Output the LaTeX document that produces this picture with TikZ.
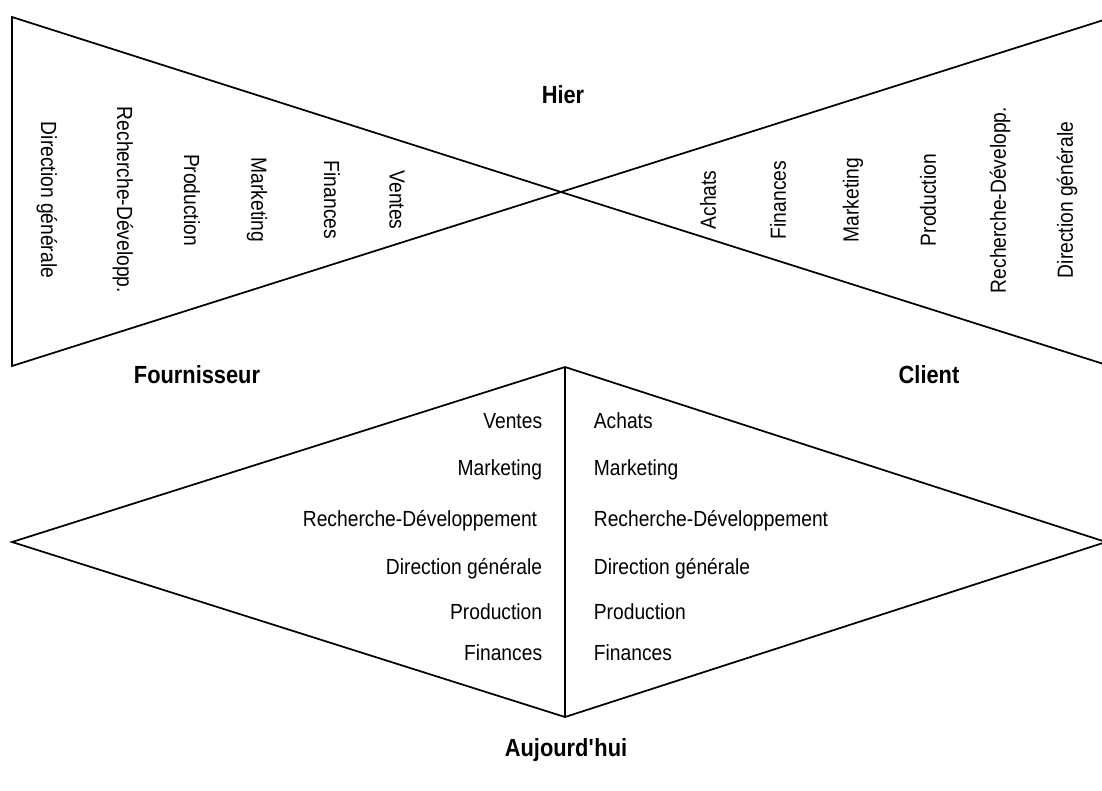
\documentclass[tikz,border=0pt]{standalone}
\usepackage{fontspec}
\setmainfont[FakeStretch=0.88]{Liberation Sans}
\usepackage{tikz}

\begin{document}
\begin{tikzpicture}[x=0.75pt, y=-0.75pt, line width=1.3pt,
  main/.style = {inner sep=0pt, font=\fontsize{16.4}{19}\selectfont},
  head/.style = {main, font=\fontsize{18.6}{21}\selectfont\bfseries},
  lft/.style = {main, rotate=-90},
  rgt/.style = {main, rotate=90}]
\useasboundingbox (0,0) rectangle (1102,790);
% hier : sablier
\coordinate (tl) at (12,17);
\coordinate (bl) at (12,366);
\coordinate (mid) at (561,192);
\coordinate (tr) at (1110,18);
\coordinate (br) at (1110,366);
\draw (mid) -- (tl) -- (bl) -- cycle;
\draw (mid) -- (tr) -- (br) -- cycle;
% aujourd'hui : losange
\coordinate (top) at (565,367);
\coordinate (bot) at (565,717);
\coordinate (west) at (12,542);
\coordinate (east) at (1106,542);
\draw (top) -- (west) -- (bot) -- (east) -- cycle;
\draw (top) -- (bot);
% titres
\node[head] (hier) at (563,95) {Hier};
\node[head] (four) at (197,375) {Fournisseur};
\node[head] (cli) at (929,375) {Client};
\node[head] (auj) at (566,750) {Aujourd\textquotesingle hui};
% fournisseur, hier
\node[lft] (1) at (47,200) {Direction générale};
\node[lft] (2) at (123,200) {Recherche-Développ.};
\node[lft] (3) at (192,200) {Production};
\node[lft] (4) at (257,200) {Marketing};
\node[lft] (5) at (332,200) {Finances};
\node[lft] (6) at (397,200) {Ventes};
% client, hier
\node[rgt] (7) at (708,200) {Achats};
\node[rgt] (8) at (778,200) {Finances};
\node[rgt] (9) at (853,200) {Marketing};
\node[rgt] (10) at (928,200) {Production};
\node[rgt] (11) at (1000,200) {Recherche-Développ.};
\node[rgt] (12) at (1067,200) {Direction générale};
% fournisseur, aujourd'hui
\node[main, anchor=east] (13) at (543,421) {Ventes};
\node[main, anchor=east] (14) at (543,470) {Marketing};
\node[main, anchor=east] (15) at (538,521) {Recherche-Développement};
\node[main, anchor=east] (16) at (543,569) {Direction générale};
\node[main, anchor=east] (17) at (543,612) {Production};
\node[main, anchor=east] (18) at (543,653) {Finances};
% client, aujourd'hui
\node[main, anchor=west] (19) at (593,421) {Achats};
\node[main, anchor=west] (20) at (593,470) {Marketing};
\node[main, anchor=west] (21) at (593,521) {Recherche-Développement};
\node[main, anchor=west] (22) at (593,569) {Direction générale};
\node[main, anchor=west] (23) at (593,612) {Production};
\node[main, anchor=west] (24) at (593,653) {Finances};
\end{tikzpicture}
\end{document}
